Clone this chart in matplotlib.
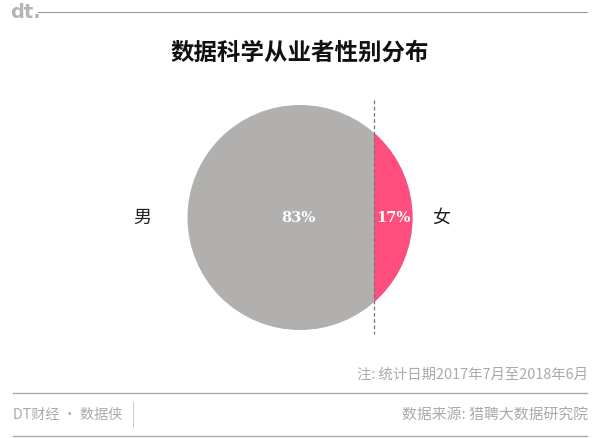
import matplotlib
matplotlib.use("Agg")
import matplotlib.pyplot as plt
from matplotlib.patches import Circle, Rectangle

plt.rcParams['font.family'] = ['Noto Sans CJK SC', 'DejaVu Sans']

# data
genders = ['男', '女']
shares = [83, 17]
colors = ['#b1b0af', '#ff4e7e']
title = '数据科学从业者性别分布'
note = '注: 统计日期2017年7月至2018年6月'
source = '数据来源: 猎聘大数据研究院'
brand = 'DT财经 · 数据侠'

W, H = 600, 438
fig = plt.figure(figsize=(W / 100, H / 100), dpi=100)
ax = fig.add_axes([0, 0, 1, 1])
ax.set_xlim(0, W)
ax.set_ylim(H, 0)
ax.axis('off')

# header
ax.text(10, 13, 'dt.', fontsize=14, fontweight='bold', color='#b5b5b5',
        family='DejaVu Sans', va='center', ha='left')
ax.plot([38, 587], [12, 12], color='#999999', lw=0.8)
ax.text(300, 53, title, fontsize=16.9, fontweight='bold', ha='center', va='center', color='#111111')

# circle split by width share
cx, cy, r = 300, 217.5, 112.5
total = sum(shares)
split = cx + r - 2 * r * shares[1] / total
circ = Circle((cx, cy), r, color=colors[0], lw=0)
ax.add_patch(circ)
seg = Rectangle((split, cy - r), cx + r - split, 2 * r, color=colors[1], lw=0)
ax.add_patch(seg)
seg.set_clip_path(circ)
ax.plot([split, split], [100, 334], color='#777777', lw=0.9, ls=(0, (3, 2)))

ax.text(cx - 2, cy, f'{shares[0]}%', color='white', fontsize=10.5, fontweight='bold',
        family='DejaVu Serif', ha='center', va='center')
ax.text((split + cx + r) / 2, cy, f'{shares[1]}%', color='white', fontsize=10.5, fontweight='bold',
        family='DejaVu Serif', ha='center', va='center')
ax.text(142, cy, genders[0], fontsize=13, ha='center', va='center', color='#222222')
ax.text(441, cy, genders[1], fontsize=13, ha='center', va='center', color='#222222')

# footer
ax.text(588, 375, note, fontsize=10.4, color='#aaaaaa', ha='right', va='center')
ax.plot([13, 587], [393, 393], color='#aaaaaa', lw=1)
ax.text(13, 415, brand, fontsize=10.2, color='#aaaaaa', ha='left', va='center')
ax.plot([133, 133], [402, 427], color='#cccccc', lw=0.8)
ax.text(588, 415, source, fontsize=10.7, color='#aaaaaa', ha='right', va='center')
ax.plot([13, 587], [436, 436], color='#aaaaaa', lw=1)

fig.savefig('out.png', dpi=100)
